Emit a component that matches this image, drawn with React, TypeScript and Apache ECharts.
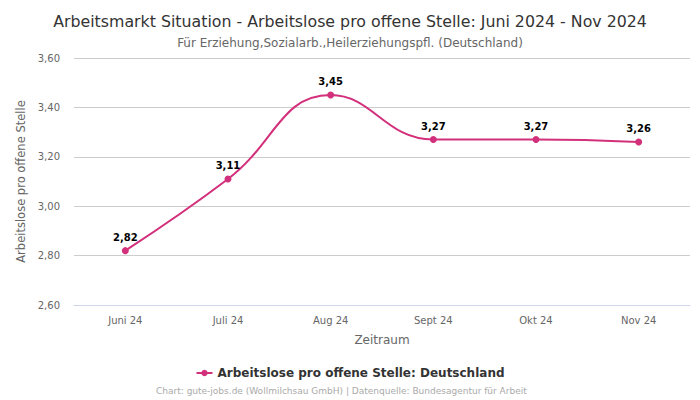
import React, { useEffect, useRef } from "react";
import * as echarts from "echarts";

const categories = ["Juni 24", "Juli 24", "Aug 24", "Sept 24", "Okt 24", "Nov 24"];
const values = [2.82, 3.11, 3.45, 3.27, 3.27, 3.26];
const seriesName = "Arbeitslose pro offene Stelle: Deutschland";
const FONT = "DejaVu Sans";
const COLOR = "#d3307c";

export default function App() {
  const ref = useRef<HTMLDivElement>(null);
  useEffect(() => {
    if (!ref.current) return;
    const chart = echarts.init(ref.current, undefined, { renderer: "svg" });
    chart.setOption({
      animation: false,
      textStyle: { fontFamily: FONT },
      title: [
        {
          text: "Arbeitsmarkt Situation - Arbeitslose pro offene Stelle: Juni 2024 - Nov 2024",
          left: "center",
          top: 8,
          textStyle: { fontSize: 15.8, fontWeight: "normal", color: "#333", fontFamily: FONT },
        },
        {
          text: "Für Erziehung,Sozialarb.,Heilerziehungspfl. (Deutschland)",
          left: "center",
          top: 32,
          textStyle: { fontSize: 12, fontWeight: "normal", color: "#666", fontFamily: FONT },
        },
        {
          text: "Chart: gute-jobs.de (Wollmilchsau GmbH) | Datenquelle: Bundesagentur für Arbeit",
          left: 151,
          top: 381,
          textStyle: { fontSize: 9, fontWeight: "normal", color: "#aaa", fontFamily: FONT },
        },
      ],
      legend: {
        data: [seriesName],
        top: 362,
        left: "center",
        itemWidth: 16,
        itemHeight: 8,
        textStyle: { fontSize: 12, fontWeight: "bold", color: "#333", fontFamily: FONT },
      },
      grid: { left: 74, right: 10, top: 58, bottom: 95 },
      xAxis: {
        type: "category",
        data: categories,
        boundaryGap: true,
        name: "Zeitraum",
        nameLocation: "middle",
        nameGap: 29,
        nameTextStyle: { fontSize: 12, color: "#666", fontFamily: FONT },
        axisLine: { lineStyle: { color: "#ccd6eb" } },
        axisTick: { show: false },
        axisLabel: { fontSize: 10, color: "#666", margin: 10, fontFamily: FONT },
      },
      yAxis: {
        type: "value",
        min: 2.6,
        max: 3.6,
        interval: 0.2,
        name: "Arbeitslose pro offene Stelle",
        nameLocation: "middle",
        nameGap: 47,
        nameTextStyle: { fontSize: 11.5, color: "#666", fontFamily: FONT },
        axisLabel: {
          fontSize: 10,
          color: "#666",
          margin: 14,
          fontFamily: FONT,
          formatter: (v: number) => v.toFixed(2).replace(".", ","),
        },
        splitLine: { lineStyle: { color: "#ccc" } },
      },
      series: [
        {
          name: seriesName,
          type: "line",
          data: values,
          smooth: 0.45,
          symbol: "circle",
          symbolSize: 7,
          itemStyle: { color: COLOR },
          lineStyle: { color: COLOR, width: 2 },
          label: {
            show: true,
            position: "top",
            distance: 5,
            fontSize: 10,
            fontWeight: "bold",
            color: "#000",
            fontFamily: FONT,
            formatter: (p: any) => p.value.toFixed(2).replace(".", ","),
          },
        },
      ],
    });
    return () => chart.dispose();
  }, []);
  return <div ref={ref} style={{ width: 700, height: 400, position: "absolute", left: 0, top: 0 }} />;
}
